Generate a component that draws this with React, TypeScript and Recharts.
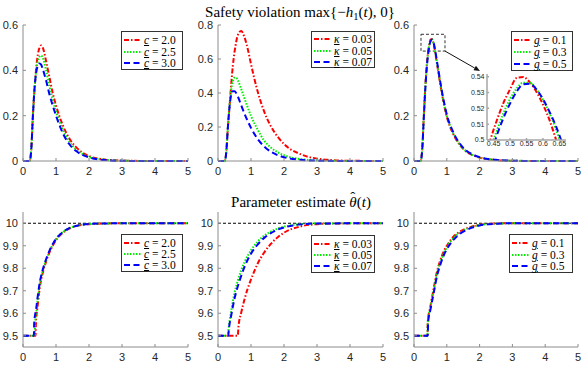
import React from "react";
import {
  LineChart,
  Line,
  XAxis,
  YAxis,
  ReferenceLine,
  ReferenceArea,
  CartesianGrid,
} from "recharts";

// time grid shared by the three "safety violation" panels
const TOP_T = [0, 0.2, 0.25, 0.3, 0.35, 0.4, 0.45, 0.5, 0.55, 0.6, 0.7, 0.8, 0.9, 1.0, 1.2, 1.4, 1.6, 1.8, 2.0, 2.5, 3.0, 3.5, 4.0, 5.0];

const VIOL_C20 = [0, 0, 0.05, 0.2, 0.32, 0.41, 0.47, 0.5, 0.51, 0.5, 0.44, 0.37, 0.3, 0.245, 0.16, 0.1, 0.062, 0.037, 0.022, 0.006, 0.0015, 0.0004, 0.0001, 0];
const VIOL_C25 = [0, 0, 0.05, 0.2, 0.32, 0.4, 0.44, 0.46, 0.465, 0.455, 0.4, 0.33, 0.27, 0.22, 0.14, 0.086, 0.052, 0.031, 0.018, 0.005, 0.0012, 0.0003, 0, 0];
const VIOL_C30 = [0, 0, 0.05, 0.2, 0.32, 0.39, 0.42, 0.43, 0.425, 0.405, 0.355, 0.295, 0.245, 0.2, 0.125, 0.075, 0.045, 0.027, 0.016, 0.004, 0.001, 0.0002, 0, 0];

const VIOL_K03 = [0, 0, 0.05, 0.2, 0.32, 0.45, 0.56, 0.64, 0.7, 0.74, 0.765, 0.73, 0.66, 0.57, 0.41, 0.29, 0.205, 0.145, 0.1, 0.04, 0.014, 0.005, 0.0015, 0];
const VIOL_K05 = [0, 0, 0.05, 0.2, 0.33, 0.42, 0.47, 0.49, 0.49, 0.475, 0.425, 0.37, 0.315, 0.265, 0.185, 0.12, 0.08, 0.052, 0.034, 0.011, 0.0035, 0.001, 0.0003, 0];
const VIOL_K07 = [0, 0, 0.05, 0.2, 0.32, 0.39, 0.41, 0.41, 0.4, 0.38, 0.33, 0.28, 0.235, 0.195, 0.13, 0.085, 0.055, 0.035, 0.022, 0.007, 0.002, 0.0006, 0.0002, 0];

const VIOL_G1 = [0, 0, 0.05, 0.2, 0.34, 0.44, 0.5, 0.535, 0.538, 0.515, 0.43, 0.34, 0.26, 0.195, 0.118, 0.07, 0.041, 0.025, 0.015, 0.004, 0.001, 0.0002, 0, 0];
const VIOL_G3 = [0, 0, 0.05, 0.2, 0.335, 0.435, 0.497, 0.53, 0.536, 0.517, 0.435, 0.345, 0.265, 0.2, 0.122, 0.073, 0.043, 0.026, 0.016, 0.0045, 0.0012, 0.0003, 0, 0];
const VIOL_G5 = [0, 0, 0.048, 0.195, 0.33, 0.43, 0.493, 0.527, 0.535, 0.52, 0.44, 0.35, 0.27, 0.205, 0.126, 0.076, 0.045, 0.028, 0.017, 0.005, 0.0013, 0.0003, 0, 0];

// zoomed inset around the peak (g panel)
const INSET_T = [0.42, 0.44, 0.46, 0.48, 0.5, 0.52, 0.54, 0.56, 0.58, 0.6, 0.62, 0.64, 0.66, 0.68];
const INSET_G1 = [0.485, 0.5, 0.5125, 0.5235, 0.532, 0.5392, 0.5398, 0.5365, 0.5305, 0.5225, 0.5125, 0.5, 0.486, 0.47];
const INSET_G3 = [0.48, 0.494, 0.506, 0.517, 0.526, 0.5325, 0.5362, 0.5362, 0.532, 0.5255, 0.517, 0.5065, 0.494, 0.48];
const INSET_G5 = [0.475, 0.49, 0.503, 0.514, 0.523, 0.5305, 0.5352, 0.5356, 0.532, 0.5258, 0.5178, 0.5085, 0.497, 0.484];

// parameter estimate, each run has its own switching time
const EST_C20_T = [0, 0.38, 0.39, 0.45, 0.5, 0.6, 0.7, 0.8, 0.9, 1.0, 1.2, 1.4, 1.6, 1.8, 2.0, 2.5, 3, 5];
const EST_C20 = [9.5, 9.5, 9.55, 9.64, 9.705, 9.78, 9.83, 9.87, 9.9, 9.925, 9.957, 9.976, 9.987, 9.993, 9.996, 9.999, 10, 10];
const EST_C25_T = [0, 0.355, 0.365, 0.4, 0.45, 0.5, 0.6, 0.7, 0.8, 0.9, 1.0, 1.2, 1.4, 1.6, 1.8, 2.0, 2.5, 3, 5];
const EST_C25 = [9.5, 9.5, 9.55, 9.6, 9.665, 9.72, 9.79, 9.837, 9.875, 9.905, 9.93, 9.96, 9.978, 9.988, 9.994, 9.997, 9.999, 10, 10];
const EST_C30_T = [0, 0.33, 0.34, 0.4, 0.45, 0.5, 0.6, 0.7, 0.8, 0.9, 1.0, 1.2, 1.4, 1.6, 1.8, 2.0, 2.5, 3, 5];
const EST_C30 = [9.5, 9.5, 9.56, 9.62, 9.68, 9.73, 9.795, 9.84, 9.877, 9.907, 9.93, 9.96, 9.978, 9.988, 9.994, 9.997, 9.999, 10, 10];

const EST_K03_T = [0, 0.6, 0.62, 0.7, 0.8, 0.9, 1.0, 1.2, 1.4, 1.6, 1.8, 2.0, 2.5, 3, 3.5, 5];
const EST_K03 = [9.5, 9.5, 9.54, 9.6, 9.66, 9.71, 9.75, 9.82, 9.87, 9.908, 9.937, 9.958, 9.986, 9.996, 9.999, 10];
const EST_K05_T = [0, 0.3, 0.32, 0.4, 0.5, 0.6, 0.7, 0.8, 0.9, 1.0, 1.2, 1.4, 1.6, 1.8, 2.0, 2.5, 3, 5];
const EST_K05 = [9.5, 9.5, 9.53, 9.61, 9.69, 9.745, 9.79, 9.826, 9.856, 9.88, 9.918, 9.945, 9.963, 9.976, 9.985, 9.996, 9.999, 10];
const EST_K07_T = [0, 0.31, 0.33, 0.4, 0.5, 0.6, 0.7, 0.8, 0.9, 1.0, 1.2, 1.4, 1.6, 1.8, 2.0, 2.5, 3, 5];
const EST_K07 = [9.5, 9.5, 9.53, 9.59, 9.665, 9.72, 9.765, 9.805, 9.838, 9.865, 9.905, 9.935, 9.956, 9.971, 9.981, 9.995, 9.999, 10];

const EST_G1_T = [0, 0.41, 0.42, 0.5, 0.6, 0.7, 0.8, 0.9, 1.0, 1.2, 1.4, 1.6, 1.8, 2.0, 2.5, 3, 5];
const EST_G1 = [9.5, 9.5, 9.56, 9.63, 9.71, 9.785, 9.835, 9.873, 9.9, 9.94, 9.963, 9.977, 9.987, 9.993, 9.999, 10, 10];
const EST_G3 = [9.5, 9.5, 9.56, 9.625, 9.7, 9.775, 9.825, 9.864, 9.892, 9.933, 9.958, 9.974, 9.985, 9.992, 9.998, 10, 10];
const EST_G5_T = [0, 0.42, 0.43, 0.5, 0.6, 0.7, 0.8, 0.9, 1.0, 1.2, 1.4, 1.6, 1.8, 2.0, 2.5, 3, 5];
const EST_G5 = [9.5, 9.5, 9.56, 9.615, 9.69, 9.765, 9.815, 9.855, 9.884, 9.926, 9.953, 9.97, 9.982, 9.99, 9.998, 10, 10];

const X_TICKS = [0, 1, 2, 3, 4, 5];
const VIOL_TICKS = [0, 0.2, 0.4, 0.6];
const VIOL_TICKS_K = [0, 0.2, 0.4, 0.6, 0.8];
const EST_TICKS = [9.5, 9.6, 9.7, 9.8, 9.9, 10];
const INSET_X_TICKS = [0.45, 0.5, 0.55, 0.6, 0.65];
const INSET_Y_TICKS = [0.5, 0.51, 0.52, 0.53, 0.54];

const C_LABELS = ["2.0", "2.5", "3.0"];
const K_LABELS = ["0.03", "0.05", "0.07"];
const G_LABELS = ["0.1", "0.3", "0.5"];

const RED = { color: "#ff0000", dash: "5 2 1.5 2" };
const GREEN = { color: "#00f000", dash: "1.5 1.5" };
const BLUE = { color: "#0000ff", dash: "6 3.5" };
const STYLES = [RED, GREEN, BLUE];

const AX = { stroke: "#8c8c8c", strokeWidth: 1 };
const TICK = { fill: "#262626", fontSize: 11, fontFamily: "'Liberation Sans', Arial, sans-serif" };
const SERIF = "'Liberation Serif', 'Times New Roman', serif";

type Pt = { t: number; v: number };
const zip = (t: number[], v: number[]): Pt[] => t.map((x, i) => ({ t: x, v: v[i] }));

function Panel({
  x,
  y,
  w,
  h,
  yDomain,
  yTicks,
  series,
  children,
}: {
  x: number;
  y: number;
  w: number;
  h: number;
  yDomain: [number, number];
  yTicks: number[];
  series: Pt[][];
  children?: React.ReactNode;
}) {
  const L = 40, T = 10, R = 10, B = 22;
  return (
    <div style={{ position: "absolute", left: x - L, top: y - T }}>
      <LineChart width={w + L + R} height={h + T + B} margin={{ top: T, right: R, bottom: 0, left: 0 }}>
        <XAxis dataKey="t" type="number" domain={[0, 5]} ticks={X_TICKS} interval={0} height={B}
          tickSize={-3} tickMargin={9} axisLine={AX} tickLine={AX} tick={TICK} />
        <XAxis xAxisId="top" orientation="top" type="number" domain={[0, 5]} ticks={X_TICKS} interval={0}
          height={0} tickSize={-3} tick={false} axisLine={AX} tickLine={AX} allowDataOverflow />
        <YAxis type="number" domain={yDomain} ticks={yTicks} interval={0} width={L}
          tickSize={-3} tickMargin={8} axisLine={AX} tickLine={AX} tick={TICK} />
        <YAxis yAxisId="right" orientation="right" type="number" domain={yDomain} ticks={yTicks} interval={0}
          width={0} tickSize={-3} tick={false} axisLine={AX} tickLine={AX} allowDataOverflow />
        {children}
        {series.map((d, i) => (
          <Line key={i} data={d} dataKey="v" type="monotone" stroke={STYLES[i].color}
            strokeDasharray={STYLES[i].dash} strokeWidth={2} dot={false} isAnimationActive={false} />
        ))}
      </LineChart>
    </div>
  );
}

function Inset() {
  const L = 22, T = 2, R = 2, B = 12, w = 79, h = 66;
  const ax = { stroke: "#a6a6a6", strokeWidth: 1.5 };
  const tk = { fill: "#262626", fontSize: 7, fontFamily: "'Liberation Sans', Arial, sans-serif" };
  const series = [zip(INSET_T, INSET_G1), zip(INSET_T, INSET_G3), zip(INSET_T, INSET_G5)];
  return (
    <div style={{ position: "absolute", left: 487 - L, top: 74 - T }}>
      <LineChart width={w + L + R} height={h + T + B} margin={{ top: T, right: R, bottom: 0, left: 0 }}>
        <CartesianGrid horizontal={false} vertical={false} fill="#fff" fillOpacity={1} />
        <XAxis dataKey="t" type="number" domain={[0.43, 0.67]} ticks={INSET_X_TICKS} interval={0} height={B}
          tickSize={-2} tickMargin={3.5} axisLine={ax} tickLine={ax} tick={tk} allowDataOverflow />
        <XAxis xAxisId="top" orientation="top" type="number" domain={[0.43, 0.67]} ticks={INSET_X_TICKS}
          height={0} tickSize={-2} tick={false} axisLine={ax} tickLine={ax} allowDataOverflow />
        <YAxis type="number" domain={[0.5, 0.5417]} ticks={INSET_Y_TICKS} interval={0} width={L}
          tickSize={-2} tickMargin={4.5} axisLine={ax} tickLine={ax} tick={tk} allowDataOverflow />
        <YAxis yAxisId="right" orientation="right" type="number" domain={[0.5, 0.5417]} ticks={INSET_Y_TICKS}
          width={0} tickSize={-2} tick={false} axisLine={ax} tickLine={ax} allowDataOverflow />
        {series.map((d, i) => (
          <Line key={i} data={d} dataKey="v" type="monotone" stroke={STYLES[i].color}
            strokeDasharray={STYLES[i].dash} strokeWidth={2} dot={false} isAnimationActive={false} />
        ))}
      </LineChart>
    </div>
  );
}

const Arrow = (p: any) => {
  const { x1, y1, x2, y2 } = p;
  const a = Math.atan2(y2 - y1, x2 - x1);
  const len = 6, half = 2.5;
  const bx = x2 - len * Math.cos(a), by = y2 - len * Math.sin(a);
  const pts = `${x2},${y2} ${bx - half * Math.sin(a)},${by + half * Math.cos(a)} ${bx + half * Math.sin(a)},${by - half * Math.cos(a)}`;
  return (
    <g>
      <line x1={x1} y1={y1} x2={bx} y2={by} stroke="#111" strokeWidth={1} />
      <polygon points={pts} fill="#111" />
    </g>
  );
};

function LegendBox({ left, top, width, height, sym, labels }: {
  left: number; top: number; width: number; height: number; sym: string; labels: string[];
}) {
  const rows = [height * 0.2, height * 0.5, height * 0.8];
  return (
    <div style={{ position: "absolute", left, top, width, height, boxSizing: "border-box",
      border: "1px solid #333", background: "#fff", fontFamily: SERIF, fontSize: 11.5, color: "#000" }}>
      {labels.map((lab, i) => (
        <div key={i} style={{ position: "absolute", left: 2, top: rows[i] - 7, height: 14,
          display: "flex", alignItems: "center", whiteSpace: "nowrap" }}>
          <svg width={17} height={6} style={{ display: "block" }}>
            <line x1={0} y1={3} x2={17} y2={3} stroke={STYLES[i].color} strokeWidth={2} strokeDasharray={STYLES[i].dash} />
          </svg>
          <span style={{ marginLeft: 3 }}>
            <span style={{ fontStyle: "italic", textDecoration: "underline" }}>{sym}</span> = {lab}
          </span>
        </div>
      ))}
    </div>
  );
}

export default function App() {
  const topW = 165, topH = 136, botH = 135;
  return (
    <div style={{ position: "absolute", left: 0, top: 0, width: 588, height: 366, background: "#fff", overflow: "hidden" }}>
      <svg width={588} height={366} style={{ position: "absolute", left: 0, top: 0 }}>
        <text x={300} y={17} textAnchor="middle" fontFamily={SERIF} fontSize={15} fill="#000">
          <tspan>Safety violation max{"{"}−</tspan>
          <tspan fontStyle="italic">h</tspan>
          <tspan fontSize={10.5} dy={3}>1</tspan>
          <tspan dy={-3}>(</tspan>
          <tspan fontStyle="italic">t</tspan>
          <tspan>), 0{"}"}</tspan>
        </text>
        <text x={301} y={207} textAnchor="middle" fontFamily={SERIF} fontSize={15} fill="#000">
          <tspan>Parameter estimate </tspan>
          <tspan fontStyle="italic">θ</tspan>
          <tspan dx={-6.5} dy={-5}>ˆ</tspan>
          <tspan dx={1.5} dy={5}>(</tspan>
          <tspan fontStyle="italic">t</tspan>
          <tspan>)</tspan>
        </text>
      </svg>

      <Panel x={23} y={25} w={topW} h={topH} yDomain={[0, 0.6]} yTicks={VIOL_TICKS}
        series={[zip(TOP_T, VIOL_C20), zip(TOP_T, VIOL_C25), zip(TOP_T, VIOL_C30)]} />
      <Panel x={218} y={25} w={topW} h={topH} yDomain={[0, 0.8]} yTicks={VIOL_TICKS_K}
        series={[zip(TOP_T, VIOL_K03), zip(TOP_T, VIOL_K05), zip(TOP_T, VIOL_K07)]} />
      <Panel x={414} y={25} w={164} h={topH} yDomain={[0, 0.6]} yTicks={VIOL_TICKS}
        series={[zip(TOP_T, VIOL_G1), zip(TOP_T, VIOL_G3), zip(TOP_T, VIOL_G5)]}>
        <ReferenceArea x1={0.213} x2={0.945} y1={0.485} y2={0.559} fill="none" fillOpacity={0}
          stroke="#333" strokeDasharray="3 2" strokeWidth={1} />
        <ReferenceLine segment={[{ x: 0.945, y: 0.485 }, { x: 2.01, y: 0.397 }]} shape={Arrow} />
      </Panel>

      <Panel x={23} y={212} w={topW} h={botH} yDomain={[9.45, 10.05]} yTicks={EST_TICKS}
        series={[zip(EST_C20_T, EST_C20), zip(EST_C25_T, EST_C25), zip(EST_C30_T, EST_C30)]}>
        <ReferenceLine y={10} stroke="#000" strokeDasharray="3 2" strokeWidth={1} />
      </Panel>
      <Panel x={218} y={212} w={topW} h={botH} yDomain={[9.45, 10.05]} yTicks={EST_TICKS}
        series={[zip(EST_K03_T, EST_K03), zip(EST_K05_T, EST_K05), zip(EST_K07_T, EST_K07)]}>
        <ReferenceLine y={10} stroke="#000" strokeDasharray="3 2" strokeWidth={1} />
      </Panel>
      <Panel x={414} y={212} w={164} h={botH} yDomain={[9.45, 10.05]} yTicks={EST_TICKS}
        series={[zip(EST_G1_T, EST_G1), zip(EST_G1_T, EST_G3), zip(EST_G5_T, EST_G5)]}>
        <ReferenceLine y={10} stroke="#000" strokeDasharray="3 2" strokeWidth={1} />
      </Panel>

      <Inset />

      <LegendBox left={121} top={31} width={62} height={39} sym="c" labels={C_LABELS} />
      <LegendBox left={311} top={31} width={64} height={37} sym="κ" labels={K_LABELS} />
      <LegendBox left={511} top={31} width={62} height={40} sym="g" labels={G_LABELS} />
      <LegendBox left={121} top={234} width={62} height={38} sym="c" labels={C_LABELS} />
      <LegendBox left={311} top={235} width={64} height={38} sym="κ" labels={K_LABELS} />
      <LegendBox left={509} top={234} width={64} height={39} sym="g" labels={G_LABELS} />
    </div>
  );
}
